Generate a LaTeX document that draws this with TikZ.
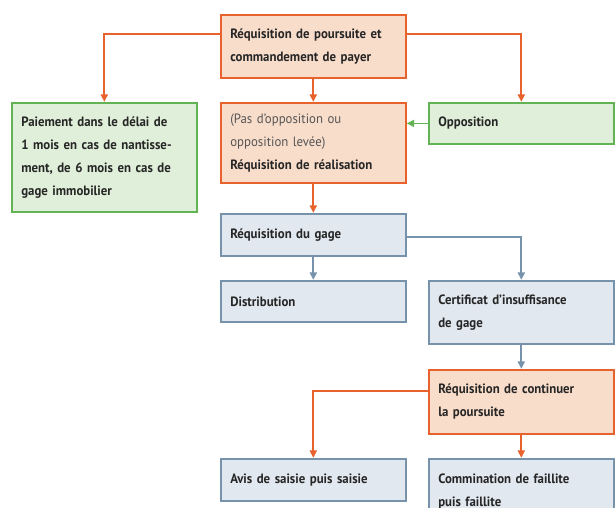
\documentclass[tikz,border=0pt]{standalone}
\usepackage{fontspec}
\setmainfont{PT Sans}[FakeStretch=0.95]
\usetikzlibrary{arrows.meta}
\definecolor{obd}{HTML}{E8622D}
\definecolor{ofl}{HTML}{F9DDCB}
\definecolor{gbd}{HTML}{62B354}
\definecolor{gfl}{HTML}{E0EFD9}
\definecolor{bbd}{HTML}{7792AB}
\definecolor{bfl}{HTML}{E2E8EF}
\definecolor{txt}{HTML}{262626}
\definecolor{gtxt}{HTML}{555555}
\begin{document}
\begin{tikzpicture}[x=1pt,y=-1pt,
  box/.style={line width=1.8pt, anchor=north west, inner xsep=9.5pt, inner ysep=0pt,
    align=left, text width=166pt, text=txt,
    font=\bfseries\fontsize{13.5}{23}\selectfont, minimum height=#1},
  obox/.style={box=#1, draw=obd, fill=ofl},
  gbox/.style={box=#1, draw=gbd, fill=gfl},
  bbox/.style={box=#1, draw=bbd, fill=bfl},
  conn/.style={line width=1.8pt, -{Triangle[width=7pt,length=7.5pt]}},
  oarr/.style={conn, draw=obd},
  garr/.style={conn, draw=gbd},
  barr/.style={conn, draw=bbd}]
\useasboundingbox (0,0) rectangle (615,508);
\clip (0,0) rectangle (615,508);
\node[obox=63.2pt] (A) at (219.9,13.9) {Réquisition de poursuite et\\commandement de payer};
\node[gbox=109.2pt] (B) at (10.9,101.9) {Paiement dans le délai de\\1 mois en cas de nantisse-\\ment, de 6 mois en cas de\\gage immobilier};
\node[obox=80.2pt] (C) at (219.9,101.9) {{\mdseries\color{gtxt}(Pas d’opposition ou\\opposition levée)}\\Réquisition de réalisation};
\node[gbox=41.2pt] (D) at (427.9,101.9) {Opposition};
\node[bbox=42.2pt] (E) at (219.9,212.9) {Réquisition du gage};
\node[bbox=41.2pt] (F) at (219.9,279.9) {Distribution};
\node[bbox=63.2pt] (G) at (427.9,279.9) {Certificat d’insuffisance\\de gage};
\node[obox=64.2pt] (H) at (427.9,368.9) {Réquisition de continuer\\la poursuite};
\node[bbox=42.2pt] (I) at (219.9,457.9) {Avis de saisie puis saisie};
\node[bbox=66pt] (J) at (427.9,457.9) {Commination de faillite\\puis faillite};
\draw[oarr] ([yshift=12.5pt]A.west) -| (B.north);
\draw[oarr] ([yshift=12.5pt]A.east) -| (D.north);
\draw[oarr] (A.south) -- (C.north);
\draw[garr] (D.west) -- (D.west -| C.east);
\draw[oarr] (C.south) -- (E.north);
\draw[barr] ([yshift=-2pt]E.east) -| (G.north);
\draw[barr] (E.south) -- (F.north);
\draw[barr] (G.south) -- (H.north);
\draw[oarr] ([yshift=11pt]H.west) -| (I.north);
\draw[oarr] (H.south) -- (J.north);
\end{tikzpicture}
\end{document}
